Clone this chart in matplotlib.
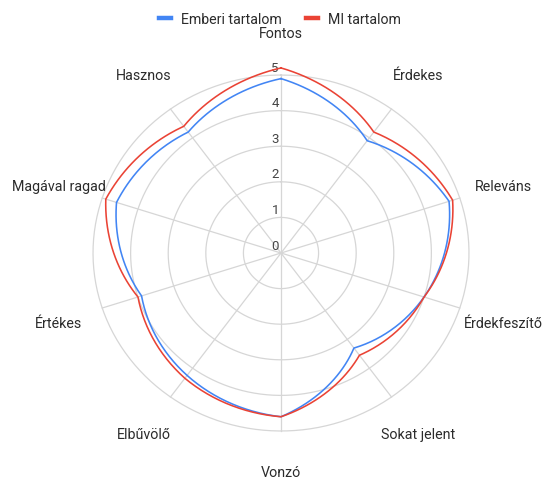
import numpy as np
import matplotlib
matplotlib.use('Agg')
from matplotlib import pyplot as plt
from matplotlib.lines import Line2D

categories = ['Fontos', 'Érdekes', 'Releváns', 'Érdekfeszítő', 'Sokat jelent',
              'Vonzó', 'Elbűvölő', 'Értékes', 'Magával ragad', 'Hasznos']
emberi = [4.9, 3.9, 4.7, 4.0, 3.3, 4.6, 4.25, 3.9, 4.6, 4.2]
mi = [5.2, 4.2, 4.8, 4.0, 3.55, 4.6, 4.35, 4.0, 4.9, 4.4]
ticks = [0, 1, 2, 3, 4, 5]

BLUE = '#4285f4'
RED = '#ea4335'
GRID = '#d6d6d6'
TEXT = '#2b2b2b'

plt.rcParams['font.family'] = ['Roboto', 'DejaVu Sans']

fig = plt.figure(figsize=(5.43, 4.81), dpi=100)
ax = fig.add_axes([0.154, 0.0834, 0.727, 0.777], projection='polar')
ax.set_theta_zero_location('N')
ax.set_theta_direction(-1)
ax.set_aspect('auto')
ax.set_ylim(0, 5.25)
ax.axis('off')

n = len(categories)
angles = np.arange(n) * 2 * np.pi / n

# rings and spokes
circle = np.linspace(0, 2 * np.pi, 300)
for t in ticks[1:]:
    ax.plot(circle, [t] * len(circle), color=GRID, lw=0.9, zorder=1)
for a in angles:
    ax.plot([a, a], [0, ticks[-1]], color=GRID, lw=0.9, zorder=1)

for t in ticks:
    ax.annotate(str(t), xy=(0, t + 0.22), xytext=(-1.5, 0), textcoords='offset points',
                ha='right', va='center', fontsize=9.5, color='#444444', zorder=3)

# data series, closed loop; segments follow the polar grid (curved)
closed = np.append(angles, 2 * np.pi)
for vals, col, z in [(emberi, BLUE, 4), (mi, RED, 5)]:
    ln, = ax.plot(closed, vals + vals[:1], color=col, lw=1.15, zorder=z)
    ln.get_path()._interpolation_steps = 60

for a, name in zip(angles, categories):
    r = 6.12 if np.isclose(a, np.pi) else 6.22
    ax.text(a, r, name, ha='center', va='center_baseline', fontsize=10.3, color=TEXT)

handles = [Line2D([], [], color=BLUE, lw=3.2),
           Line2D([], [], color=RED, lw=3.2)]
fig.legend(handles, ['Emberi tartalom', 'MI tartalom'], loc='center',
           bbox_to_anchor=(0.516, 0.958), ncol=2, frameon=False, fontsize=10.2,
           handlelength=0.85, handletextpad=0.7, columnspacing=1.7,
           labelcolor=TEXT)

fig.savefig('out.png', dpi=100)
